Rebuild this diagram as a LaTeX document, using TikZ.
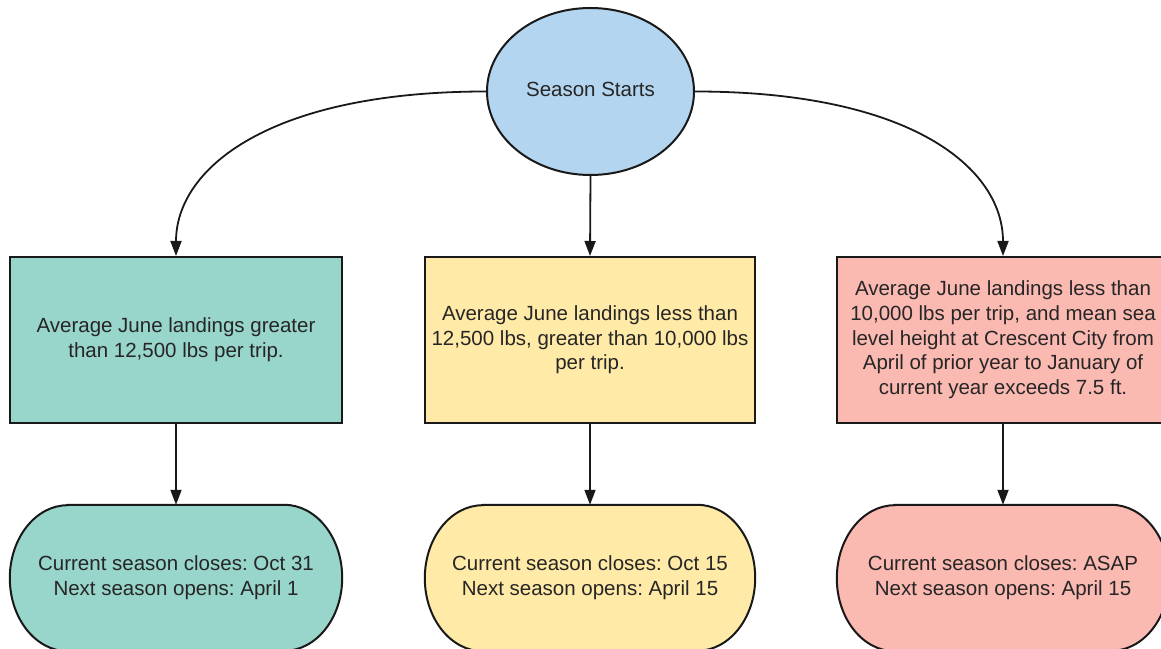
\documentclass[tikz,border=0pt]{standalone}
\usepackage{fontspec}
\setmainfont{Liberation Sans}
\usetikzlibrary{shapes.geometric,arrows.meta,backgrounds}
\definecolor{cblue}{RGB}{179,213,239}
\definecolor{cteal}{RGB}{152,213,202}
\definecolor{cyell}{RGB}{255,234,167}
\definecolor{cpink}{RGB}{250,185,177}
\definecolor{cline}{RGB}{25,25,25}
\definecolor{ctext}{RGB}{38,38,38}
\newcommand\drawterm[2]{%
  \path[draw=cline, line width=2pt, fill=#2]
    ([xshift=58pt]#1.north west) -- ([xshift=-58pt]#1.north east)
    arc[start angle=90, end angle=-90, x radius=58pt, y radius=73pt]
    -- ([xshift=58pt]#1.south west)
    arc[start angle=270, end angle=90, x radius=58pt, y radius=73pt] -- cycle;}
\frenchspacing
\begin{document}
\begin{tikzpicture}[x=1pt,y=1pt,
  every node/.style={font=\fontsize{20.5}{24.7}\selectfont, text=ctext, align=center},
  startnode/.style={ellipse, draw=cline, line width=2pt, fill=cblue, minimum width=207pt, minimum height=167pt, inner sep=0pt},
  condbox/.style={rectangle, draw=cline, line width=2pt, minimum height=166pt, inner sep=0pt},
  termnode/.style={rectangle, minimum height=146pt, inner sep=0pt},
  conn/.style={draw=cline, line width=1.8pt, -{Triangle[width=11pt,length=15pt]}}
]
\useasboundingbox (0,0) rectangle (1161,648);
\node[startnode] (S) at (590.5,556.5) {\raisebox{4pt}{Season Starts}};
\node[condbox, fill=cteal, minimum width=332pt] (b1) at (176,308)
  {Average June landings greater\\than 12,500 lbs per trip.};
\node[condbox, fill=cyell, minimum width=330pt] (b2) at (590,308)
  {Average June landings less than\\12,500 lbs, greater than 10,000 lbs\\per trip.};
\node[condbox, fill=cpink, minimum width=332pt] (b3) at (1003,308)
  {Average June landings less than\\10,000 lbs per trip, and mean sea\\level height at Crescent City from\\April of prior year to January of\\current year exceeds 7.5 ft.};
\node[termnode, minimum width=332pt] (t1) at (176,70)
  {Current season closes: Oct 31\\Next season opens: April 1};
\node[termnode, minimum width=330pt] (t2) at (590,70)
  {Current season closes: Oct 15\\Next season opens: April 15};
\node[termnode, minimum width=332pt] (t3) at (1003,70)
  {Current season closes: ASAP\\Next season opens: April 15};
\begin{pgfonlayer}{background}
  \fill[white] (0,0) rectangle (1161,648);
  \drawterm{t1}{cteal}
  \drawterm{t2}{cyell}
  \drawterm{t3}{cpink}
\end{pgfonlayer}
\draw[conn] (S.west) .. controls (270,556.5) and (176,480) .. (b1.north);
\draw[conn] (S.east) .. controls (911,556.5) and (1003,480) .. (b3.north);
\draw[conn] (S.south) -- (b2.north);
\draw[conn] (b1.south) -- (t1.north);
\draw[conn] (b2.south) -- (t2.north);
\draw[conn] (b3.south) -- (t3.north);
\end{tikzpicture}
\end{document}
